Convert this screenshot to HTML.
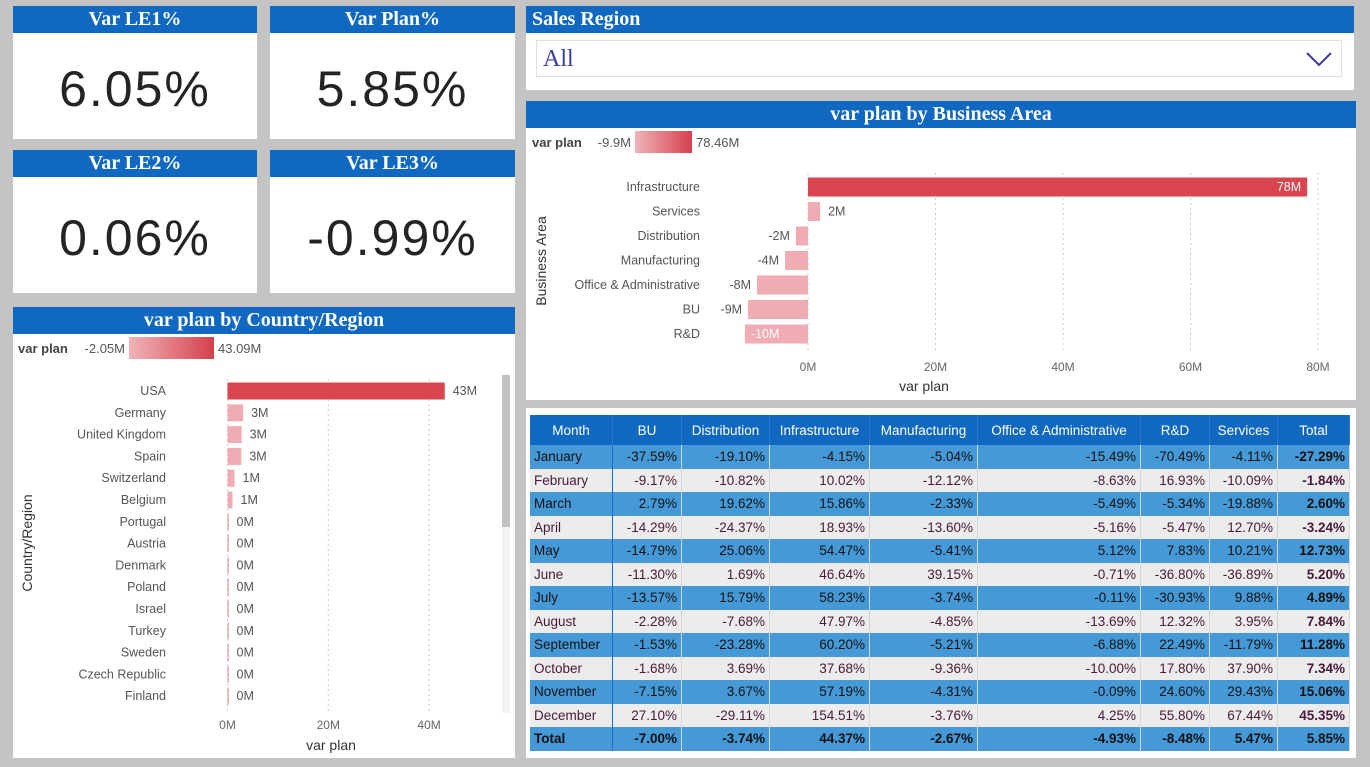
<!DOCTYPE html>
<html><head><meta charset="utf-8">
<style>
body{margin:0;width:1370px;height:767px;background:#c4c4c4;position:relative;overflow:hidden;font-family:"Liberation Sans",sans-serif}
.card{position:absolute;background:#fff}
.hdr{position:absolute;left:0;right:0;top:0;height:27px;background:#1068c0;color:#fff;font-family:"Liberation Serif",serif;font-weight:bold;font-size:20px;text-align:center;line-height:26px}
.kv{position:absolute;left:0;right:0;top:33px;bottom:0;display:flex;align-items:center;justify-content:center;font-size:50px;color:#252423;letter-spacing:2px}
svg text{font-family:"Liberation Sans",sans-serif}
table{border-collapse:collapse;font-size:13.5px;position:absolute;left:4px;top:7px}
td,th{height:23.5px;padding:0 4px;text-align:right;white-space:nowrap}
th{background:#1068c0;color:#fff;height:30px;text-align:center;font-weight:normal;border-right:1px solid #2a7acc}
tr.b td{background:#4499d6;color:#111}
tr.g td{background:#ececec;color:#4a1838}
td:first-child{text-align:left;border-right:1px solid #1a6fd0}
td{border-right:1px solid #cfd8e0}
tr.tot td{background:#4499d6;font-weight:bold;color:#111}
td.t{font-weight:bold;color:#111}
</style></head><body>
<div class="card" style="left:13px;top:6px;width:244px;height:133px"><div class="hdr">Var LE1%</div><div class="kv">6.05%</div></div>
<div class="card" style="left:270px;top:6px;width:245px;height:133px"><div class="hdr">Var Plan%</div><div class="kv">5.85%</div></div>
<div class="card" style="left:13px;top:150px;width:244px;height:143px"><div class="hdr">Var LE2%</div><div class="kv">0.06%</div></div>
<div class="card" style="left:270px;top:150px;width:245px;height:143px"><div class="hdr">Var LE3%</div><div class="kv">-0.99%</div></div>

<div class="card" style="left:526px;top:6px;width:828px;height:84px">
<div class="hdr" style="text-align:left;padding-left:6px">Sales Region</div>
<div style="position:absolute;left:10px;top:34px;width:806px;height:37px;border:1px solid #e0e0e0;font-family:'Liberation Serif',serif;font-size:24px;color:#3a3aa0;line-height:37px;padding-left:6px;box-sizing:border-box">All
<svg style="position:absolute;right:8px;top:10px" width="28" height="16"><polyline points="2,2 14,14 26,2" fill="none" stroke="#3a3aa0" stroke-width="2"/></svg></div>
</div>

<div class="card" style="left:526px;top:101px;width:830px;height:299px">
<div class="hdr">var plan by Business Area</div>
<svg id="ba" width="830" height="299" style="position:absolute;left:0;top:0"></svg></div>

<div class="card" style="left:13px;top:307px;width:502px;height:451px">
<div class="hdr">var plan by Country/Region</div>
<svg id="cr" width="502" height="451" style="position:absolute;left:0;top:0"></svg></div>

<div class="card" style="left:526px;top:408px;width:830px;height:350px"><table id="tb"></table></div>

<script>
const baCats=["Infrastructure","Services","Distribution","Manufacturing","Office & Administrative","BU","R&D"];
const baVals=[78.3,1.9,-1.9,-3.6,-8,-9.4,-9.9];
const baLabels=["78M","2M","-2M","-4M","-8M","-9M","-10M"];
const baTicks=[0,20,40,60,80];
const crCats=["USA","Germany","United Kingdom","Spain","Switzerland","Belgium","Portugal","Austria","Denmark","Poland","Israel","Turkey","Sweden","Czech Republic","Finland"];
const crVals=[43.1,3.1,2.8,2.75,1.4,1.0,0.2,0.2,0.2,0.2,0.2,0.2,0.2,0.2,0.2];
const crLabels=["43M","3M","3M","3M","1M","1M","0M","0M","0M","0M","0M","0M","0M","0M","0M"];
const crTicks=[0,20,40];
const months=["January","February","March","April","May","June","July","August","September","October","November","December"];
const cols=["BU","Distribution","Infrastructure","Manufacturing","Office & Administrative","R&D","Services","Total"];
const tableRows=[
["-37.59%","-19.10%","-4.15%","-5.04%","-15.49%","-70.49%","-4.11%","-27.29%"],
["-9.17%","-10.82%","10.02%","-12.12%","-8.63%","16.93%","-10.09%","-1.84%"],
["2.79%","19.62%","15.86%","-2.33%","-5.49%","-5.34%","-19.88%","2.60%"],
["-14.29%","-24.37%","18.93%","-13.60%","-5.16%","-5.47%","12.70%","-3.24%"],
["-14.79%","25.06%","54.47%","-5.41%","5.12%","7.83%","10.21%","12.73%"],
["-11.30%","1.69%","46.64%","39.15%","-0.71%","-36.80%","-36.89%","5.20%"],
["-13.57%","15.79%","58.23%","-3.74%","-0.11%","-30.93%","9.88%","4.89%"],
["-2.28%","-7.68%","47.97%","-4.85%","-13.69%","12.32%","3.95%","7.84%"],
["-1.53%","-23.28%","60.20%","-5.21%","-6.88%","22.49%","-11.79%","11.28%"],
["-1.68%","3.69%","37.68%","-9.36%","-10.00%","17.80%","37.90%","7.34%"],
["-7.15%","3.67%","57.19%","-4.31%","-0.09%","24.60%","29.43%","15.06%"],
["27.10%","-29.11%","154.51%","-3.76%","4.25%","55.80%","67.44%","45.35%"]];
const totalRow=["-7.00%","-3.74%","44.37%","-2.67%","-4.93%","-8.48%","5.47%","5.85%"];

const NS="http://www.w3.org/2000/svg";
function mk(svg,tag,attrs,txt){const e=document.createElementNS(NS,tag);for(const k in attrs)e.setAttribute(k,attrs[k]);if(txt!==undefined)e.textContent=txt;svg.appendChild(e);return e;}

function hbar(svg,o){
  const x=v=>o.x0+v*o.k;
  let t=mk(svg,"text",{x:o.lx,y:o.ly+5,"font-size":13,"font-weight":"bold",fill:"#444"},"var plan");
  
  mk(svg,"text",{x:o.gx-4,y:o.ly+5,"font-size":13,fill:"#555","text-anchor":"end"},o.lmin);
  const g=mk(svg,"rect",{x:o.gx,y:o.ly-11,width:o.gw,height:22,fill:"url(#"+o.id+"g)"});
  
  const d=mk(svg,"defs",{});const lg=mk(d,"linearGradient",{id:o.id+"g"});
  mk(lg,"stop",{offset:"0","stop-color":"#f0b4b9"});mk(lg,"stop",{offset:"1","stop-color":"#d5404c"});
  mk(svg,"text",{x:o.gx+o.gw+4,y:o.ly+5,"font-size":13,fill:"#555"},o.lmax);
  o.ticks.forEach(v=>{
    const gl=mk(svg,"line",{x1:x(v),x2:x(v),y1:o.gTop,y2:o.gBot,stroke:"#ccc","stroke-dasharray":"2,3"});
    
    const tl=mk(svg,"text",{x:x(v),y:o.tickY,"font-size":12,fill:"#666","text-anchor":"middle"},v+"M");
    
  });
  const at=mk(svg,"text",{x:o.axX,y:o.axY,"font-size":14,fill:"#333","text-anchor":"middle"},"var plan");
  
  const yt=mk(svg,"text",{x:0,y:0,"font-size":14,fill:"#333","text-anchor":"middle",transform:"translate("+o.ytX+","+o.ytY+") rotate(-90)"},o.ytitle);
  
  const mx=Math.max(...o.vals);
  o.cats.forEach((c,i)=>{
    const cy=o.y0+i*o.step,v=o.vals[i];
    const cl=mk(svg,"text",{x:o.catX,y:cy+4,"font-size":12.5,fill:"#555","text-anchor":"end"},c);
    
    const bx=Math.min(x(0),x(v)),bw=Math.max(1.5,Math.abs(x(v)-x(0)));
    const b=mk(svg,"rect",{x:bx,y:cy-o.bh/2,width:bw,height:o.bh,fill:v===mx?"#d9444f":"#efadb3"});
    
    let lx,anchor="start",fill="#555";
    if(v===mx&&o.inside){lx=x(v)-6;anchor="end";fill="#fff";}
    else if(v>=0){lx=x(v)+8;}
    else if(bw>61){lx=bx+6;fill="#fff";}
    else{lx=bx-6;anchor="end";}
    const dl=mk(svg,"text",{x:lx,y:cy+4,"font-size":12.5,fill:fill,"text-anchor":anchor},o.labels[i]);
    
  });
}
hbar(document.getElementById("ba"),{id:"ba",inside:true,x0:282,k:6.375,cats:baCats,vals:baVals,labels:baLabels,ticks:baTicks,
 y0:86,step:24.5,bh:19,catX:174,gTop:72,gBot:252,tickY:270,axX:398,axY:290,ytX:20,ytY:160,ytitle:"Business Area",
 lx:6,ly:41,gx:109,gw:57,lmin:"-9.9M",lmax:"78.46M"});
hbar(document.getElementById("cr"),{id:"cr",inside:false,x0:214.5,k:5.04,cats:crCats,vals:crVals,labels:crLabels,ticks:crTicks,
 y0:84,step:21.8,bh:17,catX:153,gTop:72,gBot:405,tickY:422,axX:318,axY:443,ytX:19,ytY:236,ytitle:"Country/Region",
 lx:5,ly:41,gx:116,gw:85,lmin:"-2.05M",lmax:"43.09M"});
(function(){const s=document.getElementById("cr");
const tr=mk(s,"rect",{x:489,y:68,width:8,height:338,fill:"#f3f3f3"});
const th=mk(s,"rect",{x:489,y:68,width:8,height:152,fill:"#c2c2c2"});})();

const tb=document.getElementById("tb");
const widths=[83,69,88,100,108,163,69,68,72];
let h="<tr><th style='width:"+(widths[0]-9)+"px'>Month</th>";
cols.forEach((c,i)=>h+="<th style='width:"+(widths[i+1]-9)+"px'>"+c+"</th>");
h+="</tr>";
months.forEach((m,r)=>{h+="<tr class='"+(r%2?"g":"b")+"'><td>"+m+"</td>";
 tableRows[r].forEach((v,i)=>h+="<td"+(i==7?" class='t'":"")+">"+v+"</td>");h+="</tr>";});
h+="<tr class='tot'><td>Total</td>";totalRow.forEach(v=>h+="<td>"+v+"</td>");h+="</tr>";
tb.innerHTML=h;tb.style.width="820px";
</script>
</body></html>
